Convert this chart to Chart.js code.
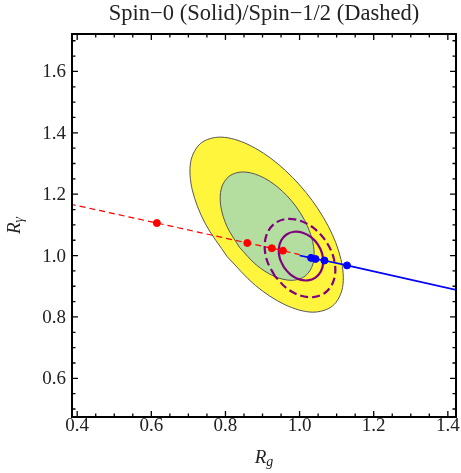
<!DOCTYPE html>
<html>
<head>
<meta charset="utf-8">
<script src="https://cdn.jsdelivr.net/npm/chart.js@4.4.0/dist/chart.umd.min.js"></script>
<style>
  html, body { margin: 0; padding: 0; background: #fff; }
</style>
</head>
<body>
<canvas id="chart" width="461" height="473"></canvas>
<script>
// tick labels
const xTickLabels = ['0.4', '0.6', '0.8', '1.0', '1.2', '1.4'];
const yTickLabels = ['0.6', '0.8', '1.0', '1.2', '1.4', '1.6'];

// spin-0 / spin-1/2 predictions (dots) and the lines through them
const redPoints = [[0.615, 1.106], [0.859, 1.041], [0.925, 1.024], [0.955, 1.016]];
const bluePoints = [[1.031, 0.9925], [1.043, 0.989], [1.067, 0.984], [1.128, 0.968]];
const redLine = [[0.38, 1.168], [0.615, 1.106], [0.859, 1.041], [0.925, 1.024], [0.955, 1.016], [1.0, 1.003]];
const blueLine = [[1.0, 1.0], [1.031, 0.9925], [1.043, 0.989], [1.067, 0.984], [1.128, 0.968], [1.43, 0.886]];

// contours (start on a flat side)
const yellowContour = [
    [0.8047, 0.9964], [0.7448, 1.1059], [0.7104, 1.2146], [0.7063, 1.3060],
    [0.7336, 1.3662], [0.7879, 1.3860], [0.8608, 1.3622], [0.9414, 1.2989],
    [1.0175, 1.2052], [1.0774, 1.0957], [1.1118, 0.9870], [1.1159, 0.8956],
    [1.0886, 0.8354], [1.0343, 0.8156], [0.9614, 0.8394], [0.8808, 0.9027]
];
const greenContour = [
    [0.8378, 1.0270], [0.8042, 1.0945], [0.7872, 1.1622], [0.7891, 1.2197],
    [0.8099, 1.2585], [0.8463, 1.2725], [0.8928, 1.2596], [0.9422, 1.2219],
    [0.9872, 1.1648], [1.0208, 1.0973], [1.0378, 1.0296], [1.0359, 0.9721],
    [1.0151, 0.9333], [0.9787, 0.9193], [0.9322, 0.9322], [0.8828, 0.9699]
];
const spin0Contour = [
    [0.9581, 0.9610], [0.9467, 0.9907], [0.9439, 1.0216], [0.9503, 1.0490],
    [0.9648, 1.0686], [0.9853, 1.0776], [1.0085, 1.0744], [1.0311, 1.0599],
    [1.0495, 1.0358], [1.0609, 1.0061], [1.0637, 0.9752], [1.0573, 0.9478],
    [1.0428, 0.9282], [1.0223, 0.9192], [0.9991, 0.9224], [0.9765, 0.9369]
];
const spinHalfContour = [
    [0.9331, 0.9337], [0.9127, 0.9817], [0.9057, 1.0313], [0.9133, 1.0748],
    [0.9342, 1.1057], [0.9653, 1.1194], [1.0019, 1.1135], [1.0383, 1.0893],
    [1.0691, 1.0501], [1.0895, 1.0021], [1.0965, 0.9525], [1.0889, 0.9090],
    [1.0680, 0.8781], [1.0369, 0.8644], [1.0003, 0.8703], [0.9639, 0.8945]
];

const toXY = arr => arr.map(p => ({x: p[0], y: p[1]}));
// close the loop by repeating the first point
const closed = arr => toXY(arr.concat([arr[0]]));

const serif = '"Liberation Serif", "Times New Roman", serif';

const framePlugin = {
    id: 'frame',
    afterDraw(chart) {
        const {ctx, chartArea: a, scales: {x, y}} = chart;
        ctx.save();
        ctx.strokeStyle = '#000';
        ctx.lineWidth = 1.3;
        // x ticks, bottom and top, pointing inward
        for (let i = 0; i <= 20; i++) {
            const v = 0.4 + i * 0.05;
            const len = i % 4 === 0 ? 6 : 3.5;
            const px = x.getPixelForValue(v);
            ctx.beginPath();
            ctx.moveTo(px, a.bottom); ctx.lineTo(px, a.bottom - len);
            ctx.moveTo(px, a.top); ctx.lineTo(px, a.top + len);
            ctx.stroke();
        }
        // y ticks, left and right
        for (let i = 0; i <= 24; i++) {
            const v = 0.5 + i * 0.05;
            const len = (i - 2) % 4 === 0 ? 6 : 3.5;
            const py = y.getPixelForValue(v);
            ctx.beginPath();
            ctx.moveTo(a.left, py); ctx.lineTo(a.left + len, py);
            ctx.moveTo(a.right, py); ctx.lineTo(a.right - len, py);
            ctx.stroke();
        }
        ctx.lineWidth = 2;
        ctx.strokeRect(a.left, a.top, a.right - a.left, a.bottom - a.top);

        // tick labels
        ctx.fillStyle = '#222';
        ctx.font = '19px ' + serif;
        ctx.textAlign = 'center';
        ctx.textBaseline = 'alphabetic';
        xTickLabels.forEach(t => {
            ctx.fillText(t, x.getPixelForValue(parseFloat(t)), a.bottom + 14);
        });
        ctx.textAlign = 'right';
        yTickLabels.forEach(t => {
            ctx.fillText(t, a.left - 6, y.getPixelForValue(parseFloat(t)) + 6);
        });

        // title
        ctx.textAlign = 'center';
        ctx.font = '22.5px ' + serif;
        ctx.fillText('Spin\u22120 (Solid)/Spin\u22121/2 (Dashed)', (a.left + a.right) / 2, 20);

        // axis titles with subscripts
        const cx = (a.left + a.right) / 2;
        ctx.textAlign = 'left';
        ctx.font = 'italic 19px ' + serif;
        const rw = ctx.measureText('R').width;
        ctx.font = 'italic 14px ' + serif;
        const gw = ctx.measureText('g').width;
        let sx = cx - (rw + gw) / 2;
        ctx.font = 'italic 19px ' + serif;
        ctx.fillText('R', sx, 463);
        ctx.font = 'italic 14px ' + serif;
        ctx.fillText('g', sx + rw, 466);

        const cy = (a.top + a.bottom) / 2;
        ctx.translate(20, cy);
        ctx.rotate(-Math.PI / 2);
        const yw = ctx.measureText('\u03b3').width;
        sx = -(rw + yw) / 2;
        ctx.font = 'italic 19px ' + serif;
        ctx.fillText('R', sx, 0);
        ctx.font = 'italic 14px ' + serif;
        ctx.fillText('\u03b3', sx + rw, 3);
        ctx.restore();
    }
};

const ctx = document.getElementById('chart');

new Chart(ctx, {
    type: 'scatter',
    data: {
        datasets: [
            {
                data: toXY(redPoints),
                backgroundColor: '#ff0000', borderColor: '#ff0000',
                pointRadius: 3.5, showLine: false
            },
            {
                data: toXY(bluePoints),
                backgroundColor: '#0000ff', borderColor: '#0000ff',
                pointRadius: 3.5, showLine: false
            },
            {
                data: toXY(redLine),
                showLine: true, pointRadius: 0,
                borderColor: '#ff0000', borderWidth: 1.2, borderDash: [6, 4]
            },
            {
                data: toXY(blueLine),
                showLine: true, pointRadius: 0,
                borderColor: '#0000ff', borderWidth: 1.6
            },
            {
                data: closed(spin0Contour),
                showLine: true, pointRadius: 0, tension: 0.33,
                borderColor: '#800080', borderWidth: 2.2
            },
            {
                data: closed(spinHalfContour),
                showLine: true, pointRadius: 0, tension: 0.33,
                borderColor: '#800080', borderWidth: 2.2, borderDash: [8, 4]
            },
            {
                data: closed(greenContour),
                showLine: true, pointRadius: 0, tension: 0.33,
                borderColor: '#555555', borderWidth: 1,
                backgroundColor: '#b4dea0', fill: 'shape'
            },
            {
                data: closed(yellowContour),
                showLine: true, pointRadius: 0, tension: 0.33,
                borderColor: '#555555', borderWidth: 1,
                backgroundColor: '#fff53c', fill: 'shape'
            }
        ]
    },
    options: {
        responsive: false,
        animation: false,
        layout: { padding: { left: 72, right: 4, top: 34, bottom: 56 } },
        plugins: {
            legend: { display: false },
            tooltip: { enabled: false }
        },
        scales: {
            x: { type: 'linear', min: 0.386, max: 1.422, display: false },
            y: { type: 'linear', min: 0.474, max: 1.722, display: false }
        }
    },
    plugins: [framePlugin]
});
</script>
</body>
</html>
